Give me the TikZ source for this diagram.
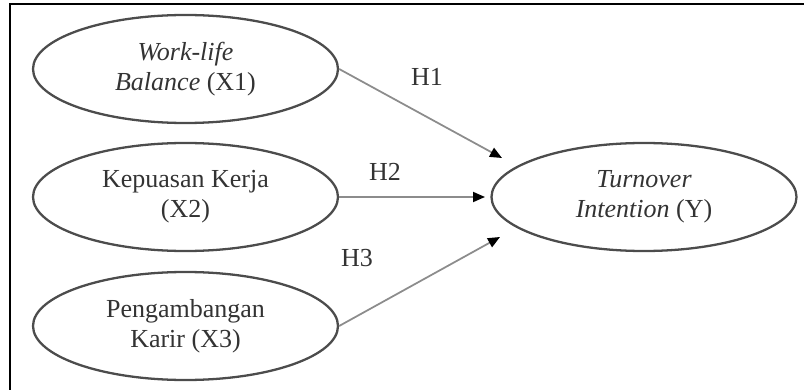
\documentclass[tikz,border=0pt]{standalone}
\usepackage{fontspec}
\setmainfont{Liberation Serif}
\usepackage{tikz}
\usetikzlibrary{shapes.geometric,arrows.meta}

\begin{document}
\begin{tikzpicture}[
  font=\fontsize{14.8pt}{17pt}\selectfont,
  my ellipse/.style={
    ellipse,
    draw=black!70,
    line width=1.3pt,
    minimum width=6.1cm,
    minimum height=2.16cm,
    inner sep=0pt,
    align=center,
    text=black!80,
  },
  my arrow/.style={
    draw=black!45,
    line width=1pt,
    -{Triangle[length=0.24cm,width=0.2cm,color=black]},
  }]
  \useasboundingbox (0,0) rectangle (16.08,-7.8);
  \draw[line width=1pt] (0.2,-7.8) -- (0.2,-0.08) -- (16.08,-0.08);
  \node[my ellipse] (X1) at (3.71,-1.38) {\textit{Work-life}\\\textit{Balance} (X1)};
  \node[my ellipse] (X2) at (3.71,-3.94) {Kepuasan Kerja\\(X2)};
  \node[my ellipse] (X3) at (3.71,-6.52) {Pengambangan\\Karir (X3)};
  \node[my ellipse] (Y) at (12.88,-3.94) {\textit{Turnover}\\\textit{Intention} (Y)};
  \coordinate (T1) at (10.04,-3.16);
  \coordinate (T2) at (9.7,-3.94);
  \coordinate (T3) at (10.0,-4.74);
  \draw[my arrow] (X1.east) -- (T1);
  \draw[my arrow] (X2.east) -- (T2);
  \draw[my arrow] (X3.east) -- (T3);
  \node[text=black!80] (H1) at (8.54,-1.54) {H1};
  \node[text=black!80] (H2) at (7.7,-3.44) {H2};
  \node[text=black!80] (H3) at (7.14,-5.16) {H3};
\end{tikzpicture}
\end{document}
